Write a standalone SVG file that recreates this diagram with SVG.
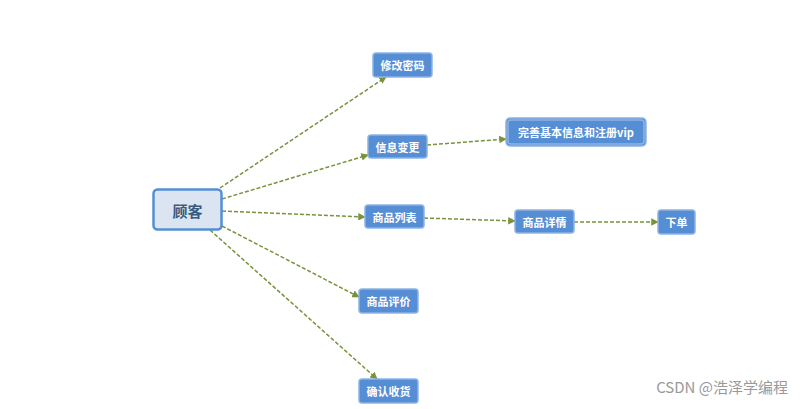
<svg xmlns="http://www.w3.org/2000/svg" width="801" height="409" viewBox="0 0 801 409">
<style>
.n rect{fill:#558ed5;stroke:#8db3e2;stroke-width:1.5}
.n text{fill:#fff;font-family:"Noto Sans CJK SC",sans-serif;font-size:11px;font-weight:bold;text-anchor:middle;dominant-baseline:central}
.c line{stroke:#77933c;stroke-width:1.5;stroke-dasharray:4 2;marker-end:url(#a)}
</style>
<defs><marker id="a" viewBox="0 0 10 10" refX="9" refY="5" markerWidth="5" markerHeight="5" orient="auto"><path d="M0,0L10,5L0,10z" fill="#77933c"/></marker></defs>
<rect width="801" height="409" fill="#fff"/>
<g class="c">
<line x1="220" y1="188" x2="386" y2="77"/>
<line x1="222" y1="199" x2="368" y2="155"/>
<line x1="222" y1="211" x2="365" y2="217"/>
<line x1="222" y1="226" x2="359" y2="297"/>
<line x1="210" y1="230" x2="377" y2="379"/>
<line x1="427" y1="145" x2="506" y2="139"/>
<line x1="424" y1="218" x2="515" y2="221"/>
<line x1="574" y1="222" x2="658" y2="222"/>
</g>
<g id="guke"><rect x="153.5" y="189.5" width="68" height="40" rx="4" fill="#dbe5f1" stroke="#558ed5" stroke-width="2.5"/><text x="187.5" y="210" font-family="Noto Sans CJK SC,sans-serif" font-size="15" font-weight="bold" fill="#3a5a80" text-anchor="middle" dominant-baseline="central">顾客</text></g>
<g id="n1" class="n"><rect x="373" y="53" width="59" height="24" rx="3"/><text x="402.5" y="65">修改密码</text></g>
<g id="n2" class="n"><rect x="368" y="135" width="59" height="23" rx="3"/><text x="397.5" y="146.5">信息变更</text></g>
<g id="n3" class="n"><rect x="506" y="118" width="140" height="28" rx="4" stroke="#3f5fa0"/><rect x="508" y="120" width="136" height="24" rx="3"/><text x="576" y="132">完善基本信息和注册vip</text></g>
<g id="n4" class="n"><rect x="365" y="205" width="59" height="23" rx="3"/><text x="394.5" y="216.5">商品列表</text></g>
<g id="n5" class="n"><rect x="515" y="210" width="59" height="23" rx="3"/><text x="544.5" y="221.5">商品详情</text></g>
<g id="n6" class="n"><rect x="658" y="210" width="37" height="24" rx="3"/><text x="676.5" y="222">下单</text></g>
<g id="n7" class="n"><rect x="359" y="289" width="59" height="24" rx="3"/><text x="388.5" y="301">商品评价</text></g>
<g id="n8" class="n"><rect x="359" y="379" width="59" height="24" rx="3"/><text x="388.5" y="391">确认收货</text></g>
<text x="788" y="393" text-anchor="end" font-family="Noto Sans CJK SC,sans-serif" font-size="15" fill="#999">CSDN @浩泽学编程</text>
</svg>
